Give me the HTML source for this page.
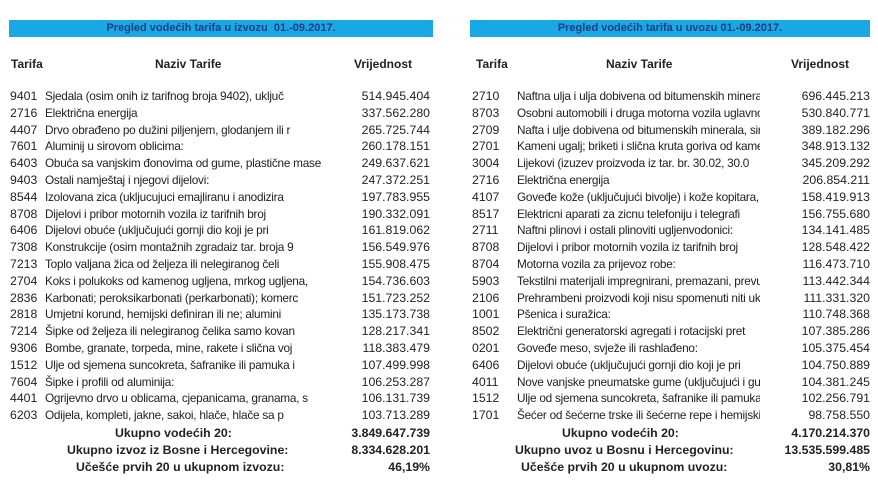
<!DOCTYPE html>
<html><head><meta charset="utf-8"><style>
body{margin:0;width:878px;height:502px;background:#fff;overflow:hidden;font-family:"Liberation Sans",Arial,sans-serif;color:#222;position:relative}
.bar{position:absolute;top:20px;height:17px;background:#1aa7e6;color:#1d3f7a;font-weight:bold;font-size:11px;text-align:center;line-height:17px}
.h{position:absolute;top:57px;font-weight:bold;font-size:12px}
.r{position:absolute;height:17px;line-height:17px;font-size:12.3px;white-space:nowrap}
.t{position:absolute;left:0}
.n{position:absolute;overflow:hidden;font-size:11.8px;letter-spacing:-0.25px}
.L .n{width:300px!important}
.v{position:absolute;text-align:right}
.b{font-weight:bold}
</style></head><body>
<div class="bar" style="left:9px;width:424px">Pregled vodećih tarifa u izvozu &nbsp;01.-09.2017.</div>
<div class="bar" style="left:470px;width:400px">Pregled vodećih tarifa u uvozu 01.-09.2017.</div>
<div class="h" style="left:11px">Tarifa</div>
<div class="h" style="left:155px">Naziv Tarife</div>
<div class="h" style="left:354px">Vrijednost</div>
<div class="h" style="left:476px">Tarifa</div>
<div class="h" style="left:606px">Naziv Tarife</div>
<div class="h" style="left:791px">Vrijednost</div>
<div class="L" style="position:absolute;left:0;top:0">
<div class="r" style="left:10px;top:88px;width:420px"><span class="t">9401</span><span class="n" style="left:35px;width:250px">Sjedala (osim onih iz tarifnog broja 9402), uključ</span><span class="v" style="right:0">514.945.404</span></div>
<div class="r" style="left:10px;top:104.8px;width:420px"><span class="t">2716</span><span class="n" style="left:35px;width:250px">Električna energija</span><span class="v" style="right:0">337.562.280</span></div>
<div class="r" style="left:10px;top:121.6px;width:420px"><span class="t">4407</span><span class="n" style="left:35px;width:250px">Drvo obrađeno po dužini piljenjem, glodanjem ili r</span><span class="v" style="right:0">265.725.744</span></div>
<div class="r" style="left:10px;top:138.4px;width:420px"><span class="t">7601</span><span class="n" style="left:35px;width:250px">Aluminij u sirovom oblicima:</span><span class="v" style="right:0">260.178.151</span></div>
<div class="r" style="left:10px;top:155.2px;width:420px"><span class="t">6403</span><span class="n" style="left:35px;width:250px">Obuća sa vanjskim đonovima od gume, plastične mase</span><span class="v" style="right:0">249.637.621</span></div>
<div class="r" style="left:10px;top:172px;width:420px"><span class="t">9403</span><span class="n" style="left:35px;width:250px">Ostali namještaj i njegovi dijelovi:</span><span class="v" style="right:0">247.372.251</span></div>
<div class="r" style="left:10px;top:188.8px;width:420px"><span class="t">8544</span><span class="n" style="left:35px;width:250px">Izolovana zica (ukljucujuci emajliranu i anodizira</span><span class="v" style="right:0">197.783.955</span></div>
<div class="r" style="left:10px;top:205.6px;width:420px"><span class="t">8708</span><span class="n" style="left:35px;width:250px">Dijelovi i pribor motornih vozila iz tarifnih broj</span><span class="v" style="right:0">190.332.091</span></div>
<div class="r" style="left:10px;top:222.4px;width:420px"><span class="t">6406</span><span class="n" style="left:35px;width:250px">Dijelovi obuće (uključujući gornji dio koji je pri</span><span class="v" style="right:0">161.819.062</span></div>
<div class="r" style="left:10px;top:239.2px;width:420px"><span class="t">7308</span><span class="n" style="left:35px;width:250px">Konstrukcije (osim montažnih zgradaiz tar. broja 9</span><span class="v" style="right:0">156.549.976</span></div>
<div class="r" style="left:10px;top:256px;width:420px"><span class="t">7213</span><span class="n" style="left:35px;width:250px">Toplo valjana žica od željeza ili nelegiranog čeli</span><span class="v" style="right:0">155.908.475</span></div>
<div class="r" style="left:10px;top:272.8px;width:420px"><span class="t">2704</span><span class="n" style="left:35px;width:250px">Koks i polukoks od kamenog ugljena, mrkog ugljena,</span><span class="v" style="right:0">154.736.603</span></div>
<div class="r" style="left:10px;top:289.6px;width:420px"><span class="t">2836</span><span class="n" style="left:35px;width:250px">Karbonati; peroksikarbonati (perkarbonati); komerc</span><span class="v" style="right:0">151.723.252</span></div>
<div class="r" style="left:10px;top:306.4px;width:420px"><span class="t">2818</span><span class="n" style="left:35px;width:250px">Umjetni korund, hemijski definiran ili ne; alumini</span><span class="v" style="right:0">135.173.738</span></div>
<div class="r" style="left:10px;top:323.2px;width:420px"><span class="t">7214</span><span class="n" style="left:35px;width:250px">Šipke od željeza ili nelegiranog čelika samo kovan</span><span class="v" style="right:0">128.217.341</span></div>
<div class="r" style="left:10px;top:340px;width:420px"><span class="t">9306</span><span class="n" style="left:35px;width:250px">Bombe, granate, torpeda, mine, rakete i slična voj</span><span class="v" style="right:0">118.383.479</span></div>
<div class="r" style="left:10px;top:356.8px;width:420px"><span class="t">1512</span><span class="n" style="left:35px;width:250px">Ulje od sjemena suncokreta, šafranike ili pamuka i</span><span class="v" style="right:0">107.499.998</span></div>
<div class="r" style="left:10px;top:373.6px;width:420px"><span class="t">7604</span><span class="n" style="left:35px;width:250px">Šipke i profili od aluminija:</span><span class="v" style="right:0">106.253.287</span></div>
<div class="r" style="left:10px;top:390.4px;width:420px"><span class="t">4401</span><span class="n" style="left:35px;width:250px">Ogrijevno drvo u oblicama, cjepanicama, granama, s</span><span class="v" style="right:0">106.131.739</span></div>
<div class="r" style="left:10px;top:407.2px;width:420px"><span class="t">6203</span><span class="n" style="left:35px;width:250px">Odijela, kompleti, jakne, sakoi, hlače, hlače sa p</span><span class="v" style="right:0">103.713.289</span></div>
<div class="r b" style="left:10px;top:425px;width:420px"><span class="t" style="left:105px">Ukupno vodećih 20:</span><span class="v" style="right:0">3.849.647.739</span></div>
<div class="r b" style="left:10px;top:442px;width:420px"><span class="t" style="left:57px">Ukupno izvoz iz Bosne i Hercegovine:</span><span class="v" style="right:0">8.334.628.201</span></div>
<div class="r b" style="left:10px;top:459px;width:420px"><span class="t" style="left:66px">Učešće prvih 20 u ukupnom izvozu:</span><span class="v" style="right:0">46,19%</span></div>
</div>
<div style="position:absolute;left:0;top:0">
<div class="r" style="left:472px;top:88px;width:398px"><span class="t">2710</span><span class="n" style="left:45px;width:243px">Naftna ulja i ulja dobivena od bitumenskih minerala</span><span class="v" style="right:0">696.445.213</span></div>
<div class="r" style="left:472px;top:104.8px;width:398px"><span class="t">8703</span><span class="n" style="left:45px;width:243px">Osobni automobili i druga motorna vozila uglavnom</span><span class="v" style="right:0">530.840.771</span></div>
<div class="r" style="left:472px;top:121.6px;width:398px"><span class="t">2709</span><span class="n" style="left:45px;width:243px">Nafta i ulje dobivena od bitumenskih minerala, sirova</span><span class="v" style="right:0">389.182.296</span></div>
<div class="r" style="left:472px;top:138.4px;width:398px"><span class="t">2701</span><span class="n" style="left:45px;width:243px">Kameni ugalj; briketi i slična kruta goriva od kamenog</span><span class="v" style="right:0">348.913.132</span></div>
<div class="r" style="left:472px;top:155.2px;width:398px"><span class="t">3004</span><span class="n" style="left:45px;width:243px">Lijekovi (izuzev proizvoda iz tar. br. 30.02, 30.0</span><span class="v" style="right:0">345.209.292</span></div>
<div class="r" style="left:472px;top:172px;width:398px"><span class="t">2716</span><span class="n" style="left:45px;width:243px">Električna energija</span><span class="v" style="right:0">206.854.211</span></div>
<div class="r" style="left:472px;top:188.8px;width:398px"><span class="t">4107</span><span class="n" style="left:45px;width:243px">Goveđe kože (uključujući bivolje) i kože kopitara,</span><span class="v" style="right:0">158.419.913</span></div>
<div class="r" style="left:472px;top:205.6px;width:398px"><span class="t">8517</span><span class="n" style="left:45px;width:243px">Elektricni aparati za zicnu telefoniju i telegrafi</span><span class="v" style="right:0">156.755.680</span></div>
<div class="r" style="left:472px;top:222.4px;width:398px"><span class="t">2711</span><span class="n" style="left:45px;width:243px">Naftni plinovi i ostali plinoviti ugljenvodonici:</span><span class="v" style="right:0">134.141.485</span></div>
<div class="r" style="left:472px;top:239.2px;width:398px"><span class="t">8708</span><span class="n" style="left:45px;width:243px">Dijelovi i pribor motornih vozila iz tarifnih broj</span><span class="v" style="right:0">128.548.422</span></div>
<div class="r" style="left:472px;top:256px;width:398px"><span class="t">8704</span><span class="n" style="left:45px;width:243px">Motorna vozila za prijevoz robe:</span><span class="v" style="right:0">116.473.710</span></div>
<div class="r" style="left:472px;top:272.8px;width:398px"><span class="t">5903</span><span class="n" style="left:45px;width:243px">Tekstilni materijali impregnirani, premazani, prevučeni</span><span class="v" style="right:0">113.442.344</span></div>
<div class="r" style="left:472px;top:289.6px;width:398px"><span class="t">2106</span><span class="n" style="left:45px;width:243px">Prehrambeni proizvodi koji nisu spomenuti niti uključeni</span><span class="v" style="right:0">111.331.320</span></div>
<div class="r" style="left:472px;top:306.4px;width:398px"><span class="t">1001</span><span class="n" style="left:45px;width:243px">Pšenica i suražica:</span><span class="v" style="right:0">110.748.368</span></div>
<div class="r" style="left:472px;top:323.2px;width:398px"><span class="t">8502</span><span class="n" style="left:45px;width:243px">Električni generatorski agregati i rotacijski pret</span><span class="v" style="right:0">107.385.286</span></div>
<div class="r" style="left:472px;top:340px;width:398px"><span class="t">0201</span><span class="n" style="left:45px;width:243px">Goveđe meso, svježe ili rashlađeno:</span><span class="v" style="right:0">105.375.454</span></div>
<div class="r" style="left:472px;top:356.8px;width:398px"><span class="t">6406</span><span class="n" style="left:45px;width:243px">Dijelovi obuće (uključujući gornji dio koji je pri</span><span class="v" style="right:0">104.750.889</span></div>
<div class="r" style="left:472px;top:373.6px;width:398px"><span class="t">4011</span><span class="n" style="left:45px;width:243px">Nove vanjske pneumatske gume (uključujući i gume</span><span class="v" style="right:0">104.381.245</span></div>
<div class="r" style="left:472px;top:390.4px;width:398px"><span class="t">1512</span><span class="n" style="left:45px;width:243px">Ulje od sjemena suncokreta, šafranike ili pamuka i</span><span class="v" style="right:0">102.256.791</span></div>
<div class="r" style="left:472px;top:407.2px;width:398px"><span class="t">1701</span><span class="n" style="left:45px;width:243px">Šećer od šećerne trske ili šećerne repe i hemijski</span><span class="v" style="right:0">98.758.550</span></div>
<div class="r b" style="left:472px;top:425px;width:398px"><span class="t" style="left:90px">Ukupno vodećih 20:</span><span class="v" style="right:0">4.170.214.370</span></div>
<div class="r b" style="left:472px;top:442px;width:398px"><span class="t" style="left:43px">Ukupno uvoz u Bosnu i Hercegovinu:</span><span class="v" style="right:0">13.535.599.485</span></div>
<div class="r b" style="left:472px;top:459px;width:398px"><span class="t" style="left:49px">Učešće prvih 20 u ukupnom uvozu:</span><span class="v" style="right:0">30,81%</span></div>
</div>
</body></html>
